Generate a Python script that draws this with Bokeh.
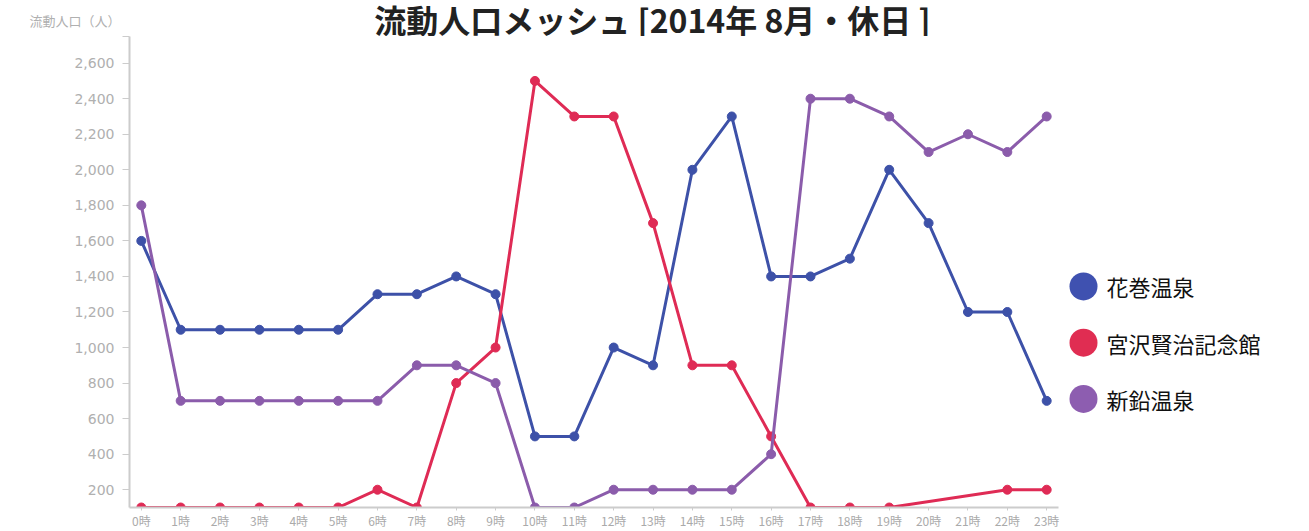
import numpy as np
from bokeh.plotting import figure
from bokeh.layouts import row, column
from bokeh.models import FixedTicker, Range1d
from bokeh.core.properties import value
from bokeh.embed import file_html
from bokeh.resources import INLINE

# ---- data ----
hours = list(range(24))
hour_labels = [f"{h}時" for h in hours]
series_names = ["花巻温泉", "宮沢賢治記念館", "新鉛温泉"]
hanamaki = [1600, 1100, 1100, 1100, 1100, 1100, 1300, 1300, 1400, 1300, 500, 500,
            1000, 900, 2000, 2300, 1400, 1400, 1500, 2000, 1700, 1200, 1200, 700]
miyazawa = [100, 100, 100, 100, 100, 100, 200, 100, 800, 1000, 2500, 2300,
            2300, 1700, 900, 900, 500, 100, 100, 100, None, None, 200, 200]
shinnamari = [1800, 700, 700, 700, 700, 700, 700, 900, 900, 800, 100, 100,
              200, 200, 200, 200, 400, 2400, 2400, 2300, 2100, 2200, 2100, 2300]
y_ticks = [200, 400, 600, 800, 1000, 1200, 1400, 1600, 1800, 2000, 2200, 2400, 2600]
title_text = "流動人口メッシュ [2014年 8月・休日 ]"
y_title = "流動人口（人）"

line_colors = ["#3d51a8", "#df2b55", "#8b5cab"]
legend_colors = ["#3f51b0", "#e02d52", "#8d5db0"]

JP = "Noto Sans CJK JP"
X0, X1 = -0.3, 23.3
Y0, Y1 = 100, 2750

TOTAL_W = 1293
HEAD_H = 36
MAIN_W = 1068
MAIN_H = 495
BOTTOM = 22

# ---- header (title + y caption) ----
hd = figure(width=TOTAL_W, height=HEAD_H, output_backend="svg", toolbar_location=None,
            x_range=Range1d(0, TOTAL_W), y_range=Range1d(HEAD_H, 0), min_border=0)
hd.axis.visible = False
hd.xgrid.visible = False
hd.ygrid.visible = False
hd.outline_line_color = None
hd.text([652.0], [18.0], text=[title_text], text_align="center", text_baseline="middle",
        text_font=value(JP), text_font_size="32px", text_font_style="bold", text_color="#222222")
hd.text([120.0], [20.0], text=[y_title], text_align="right", text_baseline="middle",
        text_font=value(JP), text_font_size="13px", text_color="#b0b0b0")

# ---- main chart ----
p = figure(width=MAIN_W, height=MAIN_H, output_backend="svg", toolbar_location=None,
           x_range=Range1d(X0, X1), y_range=Range1d(Y0, Y1),
           min_border_left=129, min_border_right=10, min_border_top=0,
           min_border_bottom=BOTTOM)
p.outline_line_color = None
p.xgrid.visible = False
p.ygrid.visible = False

for vals, col in zip([hanamaki, miyazawa, shinnamari], line_colors):
    xs = np.array([h for h, v in zip(hours, vals) if v is not None], dtype=float)
    ys = np.array([v for v in vals if v is not None], dtype=float)
    p.line(xs, ys, line_color=col, line_width=3)
    p.scatter(xs, ys, size=9, fill_color=col, line_color=col)

p.xaxis.ticker = FixedTicker(ticks=hours)
p.xaxis.major_label_overrides = {h: lab for h, lab in zip(hours, hour_labels)}
p.xaxis.major_tick_out = 3
p.xaxis.major_tick_in = 0
p.xaxis.minor_tick_line_color = None
p.xaxis.major_label_standoff = 1
p.xaxis.major_label_text_font = JP
p.xaxis.major_label_text_font_size = "12px"
p.xaxis.major_label_text_color = "#aaaaaa"
p.xaxis.axis_line_color = "#cccccc"
p.xaxis.major_tick_line_color = "#cccccc"
p.xaxis.axis_line_width = 2

p.yaxis.ticker = FixedTicker(ticks=y_ticks + [Y1])
p.yaxis.major_label_overrides = {**{t: f"{t:,}" for t in y_ticks}, Y1: ""}
p.yaxis.major_tick_out = 7
p.yaxis.major_tick_in = 0
p.yaxis.minor_tick_line_color = None
p.yaxis.major_label_standoff = 8
p.yaxis.major_label_text_font = "DejaVu Sans"
p.yaxis.major_label_text_font_size = "14px"
p.yaxis.major_label_text_color = "#b0b0b0"
p.yaxis.axis_line_color = "#cccccc"
p.yaxis.major_tick_line_color = "#cccccc"
p.yaxis.axis_line_width = 2

# ---- legend panel (pixel-like coordinates matching the main frame) ----
frame_top = HEAD_H
frame_bot = HEAD_H + MAIN_H - BOTTOM
lg = figure(width=TOTAL_W - MAIN_W, height=MAIN_H, output_backend="svg", toolbar_location=None,
            x_range=Range1d(0, TOTAL_W - MAIN_W), y_range=Range1d(frame_bot, frame_top),
            min_border_left=0, min_border_right=0, min_border_top=0, min_border_bottom=BOTTOM)
lg.axis.visible = False
lg.xgrid.visible = False
lg.ygrid.visible = False
lg.outline_line_color = None
idx = np.arange(len(series_names))
ly = 287 + idx * 56.5
lg.scatter(np.full(len(idx), 15.0), ly, size=28, fill_color=legend_colors, line_color=None)
lg.text(np.full(len(idx), 38.0), ly, text=series_names, text_baseline="middle",
        text_align="left", text_font=value(JP), text_font_size="22px", text_color="#111111")

layout = column(hd, row(p, lg, spacing=0), spacing=0)
open("out.html", "w").write(file_html(layout, INLINE))
